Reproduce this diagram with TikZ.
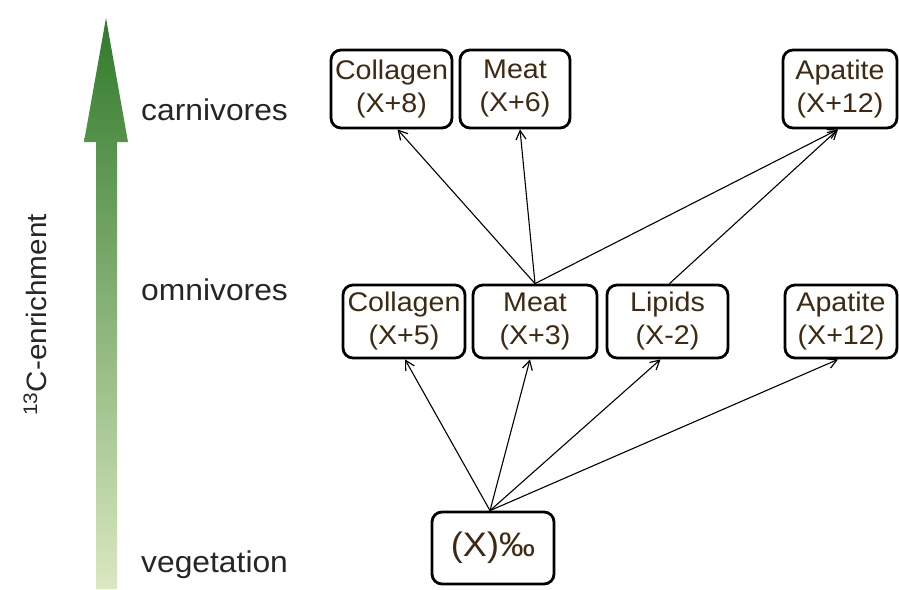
\documentclass[tikz,border=0pt]{standalone}
\usepackage{fontspec}
\setmainfont{Liberation Sans}[FakeStretch=1.06]
\usetikzlibrary{arrows.meta,calc}
\definecolor{boxtext}{RGB}{62,42,18}
\definecolor{gtop}{RGB}{48,122,42}
\definecolor{gmid}{RGB}{125,170,85}
\definecolor{gbot}{RGB}{218,232,192}
\begin{document}
\begin{tikzpicture}[x=1pt,y=-1pt,
  bx/.style={draw=black,line width=2.8pt,rounded corners=10pt,fill=white,
     text=boxtext,align=center,inner sep=0pt,minimum height=75pt,
     font=\fontsize{27}{33}\selectfont},
  lvl/.style={anchor=west,text=black!85,font=\fontsize{30}{36}\selectfont,inner sep=0pt},
  con/.style={line width=1.1pt,-{Straight Barb[length=9pt,width=10pt,line width=1.2pt]}}]
\useasboundingbox (0,0) rectangle (899,589);
% green arrow
\shade[top color=gtop,middle color=gmid,bottom color=gbot]
  (96,589) -- (96,142) -- (84,142) -- (106,18) -- (128,142) -- (117,142) -- (117,589) -- cycle;
\node[rotate=90,text=black!85,font=\fontsize{28}{34}\selectfont,inner sep=0pt] (enr) at (35,315) {\textsuperscript{13}C-enrichment};
% level labels
\node[lvl] (carn) at (141,110) {carnivores};
\node[lvl] (omni) at (141,290) {omnivores};
\node[lvl] (veg) at (141,565) {vegetation};
% top row
\node[bx,minimum width=121pt,minimum height=78pt] (cC) at (391.5,89) {Collagen\\(X+8)};
\node[bx,minimum width=110pt,minimum height=78pt] (cM) at (515,89) {Meat\\(X+6)};
\node[bx,minimum width=114pt,minimum height=78pt] (cA) at (840,89) {Apatite\\(X+12)};
% middle row
\node[bx,minimum width=122pt,minimum height=73pt] (oC) at (404,321.5) {Collagen\\(X+5)};
\node[bx,minimum width=124pt,minimum height=73pt] (oM) at (535,321.5) {Meat\\(X+3)};
\node[bx,minimum width=121pt,minimum height=73pt] (oL) at (667.5,321.5) {Lipids\\(X-2)};
\node[bx,minimum width=112pt,minimum height=73pt] (oA) at (841,321.5) {Apatite\\(X+12)};
% vegetation
\node[bx,minimum width=122pt,minimum height=72pt,font=\fontsize{34}{40}\selectfont] (v) at (493,548) {(X)‰};
% connectors
\draw[con] ($(v.north)+(-3,0)$) -- ($(oC.south)+(1,0)$);
\draw[con] ($(v.north)+(-3,0)$) -- ($(oM.south)+(-5,0)$);
\draw[con] ($(v.north)+(-3,0)$) -- ($(oL.south)+(-7,0)$);
\draw[con] ($(v.north)+(-3,0)$) -- ($(oA.south)+(-3,0)$);
\draw[con] (oM.north) -- ($(cC.south)+(6,0)$);
\draw[con] (oM.north) -- ($(cM.south)+(5,0)$);
\draw[con] (oM.north) -- ($(cA.south)+(-2,0)$);
\draw[con] ($(oL.north)+(2,0)$) -- ($(cA.south)+(-2,0)$);
\end{tikzpicture}
\end{document}
